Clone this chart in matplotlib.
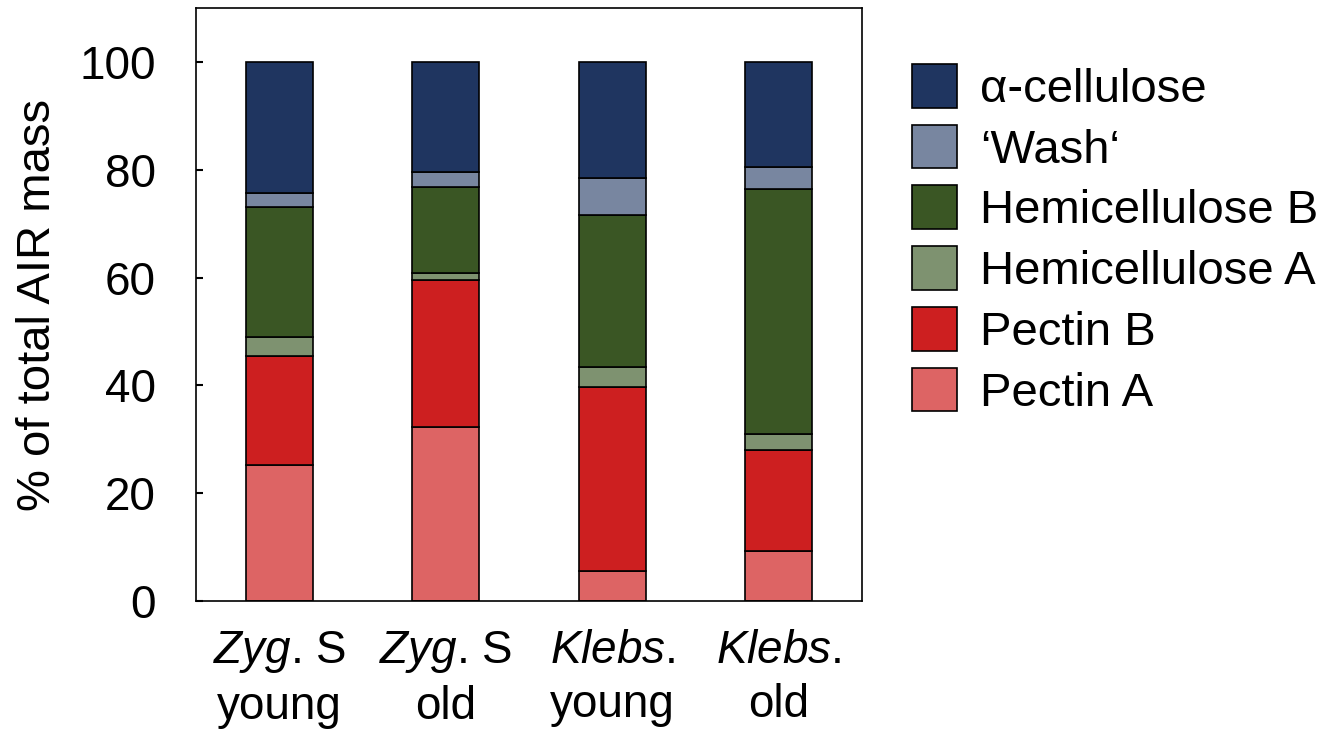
import numpy as np
import matplotlib.pyplot as plt

plt.rcParams['font.family'] = ['Liberation Sans', 'DejaVu Sans']
plt.rcParams['mathtext.fontset'] = 'custom'
plt.rcParams['mathtext.rm'] = 'Liberation Sans'
plt.rcParams['mathtext.it'] = 'Liberation Sans:italic'

# data (% of total AIR mass), bottom to top
samples = ['$\\mathit{Zyg}$. S\nyoung', '$\\mathit{Zyg}$. S\nold',
           '$\\mathit{Klebs}$.\nyoung', '$\\mathit{Klebs}$.\nold']
pectin_a = [25.3, 32.3, 5.6, 9.2]
pectin_b = [20.1, 27.2, 34.1, 18.9]
hemi_a = [3.6, 1.4, 3.7, 2.8]
hemi_b = [24.1, 15.9, 28.3, 45.6]
wash = [2.5, 2.7, 6.7, 4.1]
cellulose = [24.4, 20.5, 21.6, 19.4]

labels = ['Pectin A', 'Pectin B', 'Hemicellulose A', 'Hemicellulose B',
          '\u2018Wash\u2018', '\u03b1-cellulose']
colors = ['#dd6464', '#cd1f20', '#7e9270', '#3a5624', '#7886a0', '#1f3560']
series = [pectin_a, pectin_b, hemi_a, hemi_b, wash, cellulose]

fig = plt.figure(figsize=(13.39, 7.34), dpi=100)
ax = fig.add_axes([0.1464, 0.1812, 0.4974, 0.8078])

x = np.arange(len(samples))
bottom = np.zeros(len(samples))
for vals, lab, col in zip(series, labels, colors):
    ax.bar(x, vals, 0.4, bottom=bottom, color=col, edgecolor='black',
           linewidth=1.2, label=lab)
    bottom += np.array(vals)

ax.set_xlim(-0.5, 3.5)
ax.set_ylim(0, 110)
ax.set_yticks([0, 20, 40, 60, 80, 100])
ax.set_xticks(x)
ax.set_xticklabels(samples, fontsize=33, linespacing=1.3)
ax.tick_params(axis='x', length=0, pad=20)
ax.tick_params(axis='y', direction='in', length=5, width=1.5, labelsize=33, pad=29)
ax.set_ylabel('% of total AIR mass', fontsize=34, labelpad=14)
for s in ax.spines.values():
    s.set_linewidth(1.2)

h, l = ax.get_legend_handles_labels()
fig.legend(h[::-1], l[::-1], loc='upper left', bbox_to_anchor=(0.681, 0.913),
           frameon=False, fontsize=34, handlelength=0.96, handleheight=1.05,
           labelspacing=0.27, handletextpad=0.48, borderaxespad=0, borderpad=0)

fig.savefig('out.png', dpi=100)
